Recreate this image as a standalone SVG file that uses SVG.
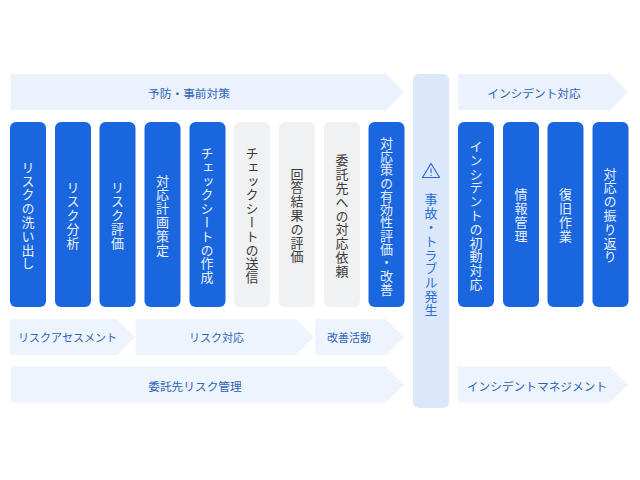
<svg xmlns="http://www.w3.org/2000/svg" width="640" height="480" viewBox="0 0 640 480">
<style>
text{font-family:"Noto Sans CJK JP","Noto Sans",sans-serif}
.a{fill:#ebf2fd}
.l{fill:#eef4fe}
.h{font-size:11.7px;fill:#2c63b4;text-anchor:middle;dominant-baseline:central}
.s{font-size:11px}
.b{fill:#1a66de}
.g{fill:#f0f1f3}
.v{font-size:13px;letter-spacing:0.8px;writing-mode:vertical-rl;text-anchor:middle;dominant-baseline:central}
.w{fill:#eaf1fd}
.d{fill:#3a3a3a}
</style>
<rect width="640" height="480" fill="#fff"/>
<g id="connectors">
<g id="arrow-prevent"><polygon class="a" points="10.500,74 386,74 404,92 386,110 10.500,110"/><text class="h" x="189" y="92.500">予防・事前対策</text></g>
<g id="arrow-incident"><polygon class="a" points="458,74 610,74 628,92 610,110 458,110"/><text class="h" x="534" y="92.500">インシデント対応</text></g>
<g id="arrow-assess"><polygon class="l" points="10,319 117,319 135,337 117,355 10,355"/><text class="h s" x="67.500" y="337">リスクアセスメント</text></g>
<g id="arrow-risk"><polygon class="l" points="135.500,319 296,319 314,337 296,355 135.500,355"/><text class="h s" x="216.500" y="337">リスク対応</text></g>
<g id="arrow-improve"><polygon class="l" points="315,319 386,319 404,337 386,355 315,355"/><text class="h s" x="349" y="337">改善活動</text></g>
<g id="arrow-vendor"><polygon class="l" points="10.500,366.500 386,366.500 404,384.500 386,402.500 10.500,402.500"/><text class="h" x="195" y="385">委託先リスク管理</text></g>
<g id="arrow-mgmt"><polygon class="l" points="458,366.500 610,366.500 628,384.500 610,402.500 458,402.500"/><text class="h" x="537" y="385">インシデントマネジメント</text></g>
</g>
<g id="n1"><rect class="b" x="10" y="122" width="36" height="185" rx="6"/><text class="v w" x="28" y="215.500">リスクの洗い出し</text></g>
<g id="n2"><rect class="b" x="55" y="122" width="36" height="185" rx="6"/><text class="v w" x="73" y="215.500">リスク分析</text></g>
<g id="n3"><rect class="b" x="99.500" y="122" width="36" height="185" rx="6"/><text class="v w" x="117.500" y="215.500">リスク評価</text></g>
<g id="n4"><rect class="b" x="144.500" y="122" width="36" height="185" rx="6"/><text class="v w" x="162.500" y="215.500">対応計画策定</text></g>
<g id="n5"><rect class="b" x="189.500" y="122" width="36" height="185" rx="6"/><text class="v w" x="207" y="215.500">チェックシートの作成</text></g>
<g id="n6"><rect class="g" x="234" y="122" width="36" height="185" rx="6"/><text class="v d" x="252" y="215.500">チェックシートの送信</text></g>
<g id="n7"><rect class="g" x="279" y="122" width="36" height="185" rx="6"/><text class="v d" x="297" y="215.500">回答結果の評価</text></g>
<g id="n8"><rect class="g" x="324" y="122" width="36" height="185" rx="6"/><text class="v d" x="342" y="216">委託先への対応依頼</text></g>
<g id="n9"><rect class="b" x="368.500" y="122" width="36" height="185" rx="6"/><text class="v w" style="letter-spacing:0.3px" x="386.500" y="216">対応策の有効性評価・改善</text></g>
<g id="n10"><rect x="413" y="74" width="36" height="334" rx="6" fill="#dbe7fa"/>
<path d="M431 163.500 L422.500 177.500 H439.500 Z" fill="none" stroke="#2b6ad6" stroke-width="1.200" stroke-linejoin="round"/><path d="M431 168.500 V173 M431 174.800 V176" stroke="#2b6ad6" stroke-width="1.100" fill="none"/>
<text class="v" style="fill:#2f6fd6" x="431" y="255">事故・トラブル発生</text></g>
<g id="n11"><rect class="b" x="458" y="122" width="36" height="185" rx="6"/><text class="v w" x="476" y="215.500">インシデントの初動対応</text></g>
<g id="n12"><rect class="b" x="503" y="122" width="36" height="185" rx="6"/><text class="v w" x="521" y="215.500">情報管理</text></g>
<g id="n13"><rect class="b" x="547.500" y="122" width="36" height="185" rx="6"/><text class="v w" x="565.500" y="215.500">復旧作業</text></g>
<g id="n14"><rect class="b" x="592.500" y="122" width="36" height="185" rx="6"/><text class="v w" x="610" y="215.500">対応の振り返り</text></g>
</svg>
